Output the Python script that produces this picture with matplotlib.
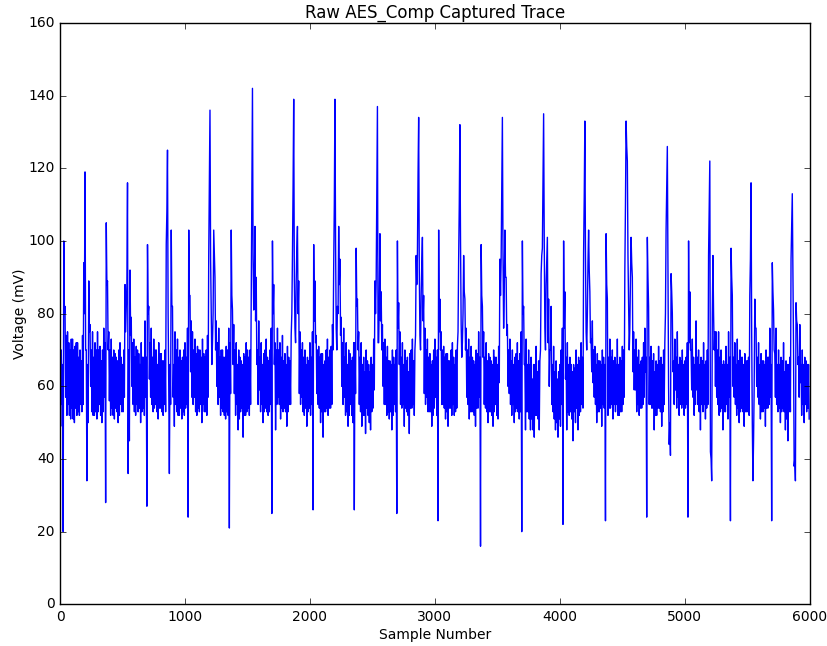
import numpy as np
import matplotlib
matplotlib.use("Agg")
import matplotlib.pyplot as plt

plt.style.use("classic")

# Voltage readings (mV) at samples 0, 10, 20, ... (upper side of the noise band + peaks)
at_x0_0000 = [68, 70, 66, 100, 82, 74, 75, 72, 70, 73,
              73, 70, 71, 72, 72, 68, 70, 67, 74, 94,
              119, 70, 66, 89, 77, 70, 75, 68, 72, 70,
              75, 70, 71, 67, 70, 76, 72, 105, 89, 75,
              70, 73, 68, 70, 69, 68, 67, 70, 72, 68,
              66, 70, 88, 82, 116, 70, 92, 79, 72, 73,
              68, 71, 70, 69, 66, 72, 68, 68, 78, 68,
              99, 82, 72, 76, 68, 73, 70, 70, 66, 72,
              69, 69, 67, 67, 70, 99, 125, 60, 66, 103,
              82, 66, 75, 70, 73, 68, 70, 67, 68, 70]
at_x0_1000 = [72, 68, 76, 103, 85, 78, 75, 70, 73, 69,
              71, 70, 70, 68, 73, 69, 68, 70, 74, 96,
              136, 81, 72, 103, 90, 78, 72, 76, 68, 70,
              70, 68, 68, 71, 70, 76, 72, 103, 81, 77,
              70, 72, 66, 70, 68, 67, 66, 69, 68, 72,
              70, 68, 70, 85, 142, 81, 104, 90, 70, 78,
              68, 72, 66, 69, 70, 73, 68, 67, 70, 76,
              100, 88, 72, 70, 76, 70, 72, 68, 74, 67,
              69, 66, 71, 68, 67, 74, 96, 139, 76, 89,
              104, 89, 75, 70, 72, 68, 70, 66, 68, 67]
at_x0_2000 = [72, 68, 75, 99, 89, 74, 70, 71, 68, 69,
              69, 66, 67, 70, 73, 68, 70, 71, 77, 93,
              139, 76, 82, 104, 95, 79, 72, 76, 68, 72,
              66, 70, 69, 67, 68, 72, 72, 98, 84, 75,
              68, 72, 66, 68, 64, 70, 67, 66, 64, 68,
              66, 73, 89, 89, 137, 72, 102, 86, 77, 72,
              73, 68, 71, 67, 67, 66, 70, 68, 66, 70,
              100, 83, 75, 68, 72, 66, 70, 67, 68, 64,
              69, 70, 73, 67, 70, 96, 96, 134, 74, 85,
              101, 85, 76, 70, 73, 68, 69, 66, 67, 70]
at_x0_3000 = [73, 68, 70, 103, 84, 75, 70, 71, 68, 69,
              69, 67, 67, 70, 72, 68, 66, 70, 71, 95,
              132, 77, 72, 96, 84, 76, 70, 73, 68, 71,
              68, 67, 66, 70, 69, 75, 68, 99, 82, 75,
              68, 72, 67, 69, 68, 67, 66, 70, 68, 68,
              66, 71, 95, 95, 134, 76, 103, 90, 77, 70,
              73, 67, 70, 66, 68, 69, 72, 67, 69, 75,
              100, 82, 66, 73, 66, 70, 66, 68, 62, 66,
              66, 71, 64, 67, 67, 91, 98, 135, 76, 88,
              101, 84, 70, 82, 66, 71, 64, 67, 62, 64]
at_x0_4000 = [66, 70, 76, 100, 86, 68, 72, 66, 68, 66,
              64, 66, 65, 70, 66, 68, 67, 72, 68, 97,
              133, 75, 80, 103, 86, 73, 78, 70, 71, 66,
              69, 67, 67, 66, 70, 68, 66, 102, 84, 68,
              73, 68, 70, 67, 68, 66, 73, 66, 68, 67,
              71, 70, 92, 133, 122, 82, 76, 101, 90, 75,
              70, 73, 68, 70, 66, 67, 68, 72, 76, 68,
              101, 82, 68, 71, 67, 69, 64, 67, 66, 71,
              67, 68, 66, 70, 72, 103, 126, 60, 50, 91,
              80, 67, 73, 68, 75, 66, 68, 67, 70, 66]
at_x0_5000 = [67, 68, 72, 100, 86, 70, 73, 68, 66, 78,
              68, 70, 66, 68, 67, 72, 66, 67, 70, 96,
              122, 40, 80, 80, 75, 75, 70, 75, 68, 70,
              66, 67, 66, 71, 66, 75, 68, 98, 85, 68,
              72, 66, 73, 67, 70, 68, 68, 66, 69, 67,
              67, 68, 85, 116, 50, 45, 84, 76, 68, 72,
              66, 69, 67, 67, 66, 70, 68, 68, 76, 66,
              94, 81, 69, 76, 66, 70, 66, 68, 67, 72,
              64, 67, 66, 66, 68, 95, 113, 70, 40, 83,
              77, 68, 77, 66, 70, 66, 68, 67, 66, 66]

# Voltage readings (mV) at samples 5, 15, 25, ... (lower side of the noise band + dips)
at_x5_0000 = [49, 55, 20, 80, 57, 52, 55, 52, 51, 54,
              51, 50, 54, 52, 53, 52, 55, 53, 55, 80,
              70, 34, 50, 75, 60, 53, 52, 52, 53, 51,
              53, 55, 52, 50, 53, 57, 28, 88, 70, 56,
              52, 54, 52, 51, 54, 53, 50, 52, 55, 53,
              53, 57, 75, 88, 36, 45, 74, 60, 55, 53,
              52, 55, 53, 54, 50, 53, 54, 52, 57, 27,
              80, 62, 57, 55, 53, 54, 55, 53, 51, 54,
              54, 53, 52, 55, 53, 108, 80, 36, 55, 82,
              57, 49, 55, 53, 52, 52, 54, 51, 53, 52]
at_x5_1000 = [54, 55, 24, 85, 64, 57, 55, 57, 53, 52,
              54, 53, 55, 50, 55, 53, 53, 52, 57, 115,
              95, 66, 80, 96, 70, 60, 55, 57, 52, 54,
              53, 52, 51, 53, 52, 21, 58, 85, 66, 58,
              52, 55, 48, 51, 53, 54, 46, 52, 52, 53,
              54, 52, 55, 110, 95, 88, 78, 66, 55, 59,
              53, 55, 50, 53, 54, 53, 52, 53, 55, 25,
              80, 66, 48, 55, 57, 55, 51, 54, 53, 54,
              53, 49, 53, 55, 55, 80, 115, 90, 72, 98,
              80, 58, 55, 57, 53, 52, 54, 49, 53, 54]
at_x5_2000 = [52, 55, 26, 78, 72, 58, 55, 54, 50, 53,
              46, 53, 53, 54, 52, 54, 54, 55, 70, 110,
              100, 70, 80, 88, 74, 60, 55, 57, 52, 53,
              49, 52, 55, 52, 50, 26, 58, 82, 70, 55,
              53, 49, 52, 52, 47, 54, 52, 50, 48, 53,
              54, 59, 80, 112, 72, 84, 78, 70, 60, 55,
              55, 52, 53, 51, 53, 48, 52, 55, 53, 25,
              76, 66, 55, 54, 55, 49, 54, 53, 52, 47,
              54, 54, 55, 52, 74, 88, 118, 92, 70, 94,
              78, 58, 55, 57, 53, 53, 53, 49, 52, 54]
at_x5_3000 = [57, 52, 23, 75, 70, 55, 55, 54, 51, 53,
              49, 54, 54, 52, 55, 52, 53, 54, 75, 110,
              100, 68, 80, 86, 70, 57, 55, 51, 53, 53,
              53, 52, 49, 54, 54, 57, 16, 85, 68, 55,
              54, 53, 50, 53, 53, 52, 49, 53, 55, 52,
              51, 61, 85, 115, 96, 86, 90, 74, 60, 58,
              55, 52, 55, 50, 53, 54, 53, 51, 53, 20,
              80, 66, 48, 53, 53, 51, 48, 51, 48, 46,
              52, 52, 51, 48, 70, 96, 116, 100, 70, 95,
              72, 60, 70, 55, 53, 51, 48, 50, 46, 51]
at_x5_4000 = [49, 55, 22, 76, 62, 48, 53, 52, 53, 51,
              45, 53, 50, 54, 48, 52, 53, 55, 54, 112,
              96, 70, 94, 92, 72, 64, 61, 57, 55, 50,
              53, 53, 54, 49, 55, 54, 23, 88, 52, 54,
              54, 55, 51, 55, 53, 55, 52, 52, 53, 53,
              55, 57, 110, 126, 96, 70, 90, 94, 64, 59,
              59, 53, 55, 52, 54, 54, 55, 57, 64, 24,
              90, 55, 55, 54, 54, 48, 52, 52, 54, 54,
              53, 49, 53, 55, 80, 115, 90, 44, 41, 86,
              64, 55, 59, 54, 57, 52, 55, 54, 55, 52]
at_x5_5000 = [54, 55, 24, 72, 70, 59, 57, 52, 55, 59,
              55, 53, 48, 55, 53, 55, 51, 54, 55, 110,
              42, 34, 96, 70, 60, 57, 55, 52, 53, 54,
              48, 53, 53, 55, 51, 57, 23, 90, 60, 57,
              55, 52, 54, 50, 53, 54, 53, 49, 53, 53,
              53, 52, 95, 75, 34, 60, 76, 60, 57, 55,
              51, 53, 53, 54, 49, 54, 54, 55, 57, 23,
              86, 70, 57, 55, 53, 54, 50, 53, 54, 53,
              48, 51, 45, 53, 53, 104, 90, 38, 34, 78,
              66, 57, 61, 52, 55, 50, 55, 53, 54, 51]

sample_step = 5
x_ticks = [0, 1000, 2000, 3000, 4000, 5000, 6000]
y_ticks = [0, 20, 40, 60, 80, 100, 120, 140, 160]

on_x0 = np.array(at_x0_0000 + at_x0_1000 + at_x0_2000 + at_x0_3000 + at_x0_4000 + at_x0_5000, dtype=float)
on_x5 = np.array(at_x5_0000 + at_x5_1000 + at_x5_2000 + at_x5_3000 + at_x5_4000 + at_x5_5000, dtype=float)
n = min(on_x0.size, on_x5.size)
voltage = np.empty(2 * n)
voltage[0::2] = on_x0[:n]
voltage[1::2] = on_x5[:n]
samples = np.arange(voltage.size) * sample_step

fig = plt.figure(figsize=(8.28, 6.46), dpi=100, facecolor="white")
ax = fig.add_axes([0.0725, 0.0645, 0.9055, 0.9000])
ax.plot(samples, voltage, color="blue", linewidth=1.0)
ax.set_xlim(0, 6000)
ax.set_ylim(0, 160)
ax.set_xticks(x_ticks)
ax.set_yticks(y_ticks)
ax.tick_params(labelsize=10)
ax.set_xlabel("Sample Number", fontsize=10, labelpad=3)
ax.set_ylabel("Voltage (mV)", fontsize=10, labelpad=1)
ax.set_title("Raw AES_Comp Captured Trace", fontsize=12, pad=4)
fig.savefig("out.png", dpi=100, facecolor="white")
print(on_x0.size, on_x5.size)
